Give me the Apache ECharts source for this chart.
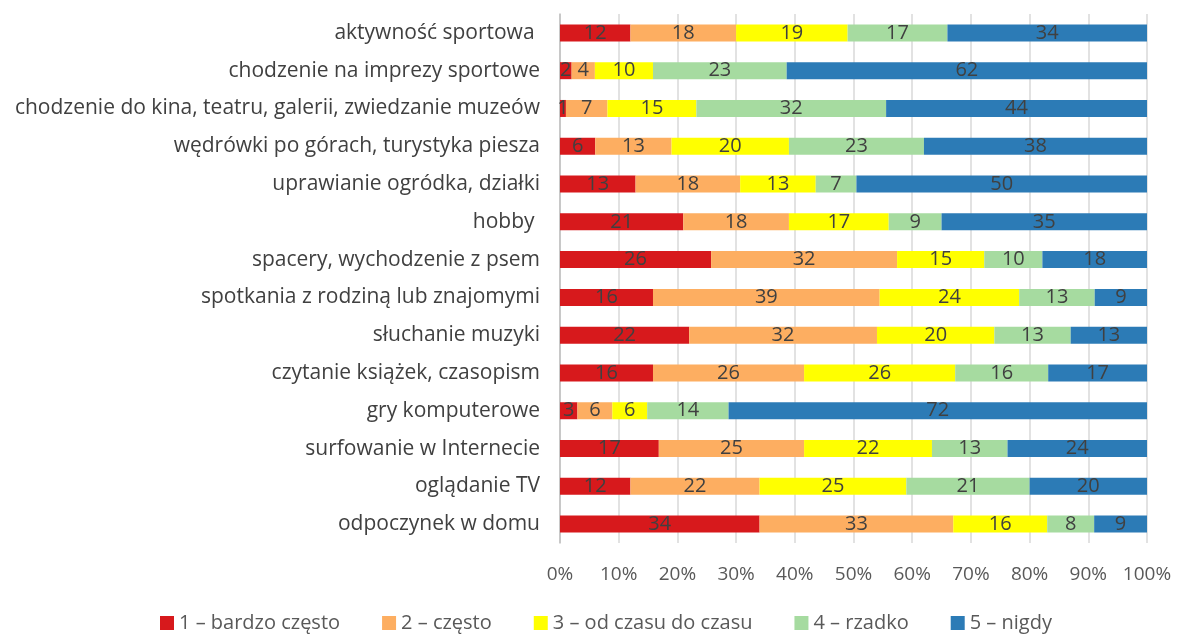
<!DOCTYPE html>
<html>
<head>
<meta charset="utf-8">
<script src="https://cdn.jsdelivr.net/npm/echarts@6/dist/echarts.min.js"></script>
<style>
html, body { margin: 0; padding: 0; background: #fff; }
#chart { width: 1177px; height: 640px; }
</style>
</head>
<body>
<div id="chart"></div>
<script>
const categories = [
    'aktywność sportowa ',
    'chodzenie na imprezy sportowe',
    'chodzenie do kina, teatru, galerii, zwiedzanie muzeów',
    'wędrówki po górach, turystyka piesza',
    'uprawianie ogródka, działki',
    'hobby ',
    'spacery, wychodzenie z psem',
    'spotkania z rodziną lub znajomymi',
    'słuchanie muzyki',
    'czytanie książek, czasopism',
    'gry komputerowe',
    'surfowanie w Internecie',
    'oglądanie TV',
    'odpoczynek w domu'
];
const seriesNames = ['1 – bardzo często', '2 – często', '3 – od czasu do czasu', '4 – rzadko', '5 – nigdy'];
const s1 = [12, 2, 1, 6, 13, 21, 26, 16, 22, 16, 3, 17, 12, 34];
const s2 = [18, 4, 7, 13, 18, 18, 32, 39, 32, 26, 6, 25, 22, 33];
const s3 = [19, 10, 15, 20, 13, 17, 15, 24, 20, 26, 6, 22, 25, 16];
const s4 = [17, 23, 32, 23, 7, 9, 10, 13, 13, 16, 14, 13, 21, 8];
const s5 = [34, 62, 44, 38, 50, 35, 18, 9, 13, 17, 72, 24, 20, 9];
const colors = ['#D7191C', '#FDAE61', '#FFFF00', '#A6DBA0', '#2C7BB6'];

const raw = [s1, s2, s3, s4, s5];
// row totals, so every bar fills 100%
const totals = categories.map((c, i) => raw.reduce((p, arr) => p + arr[i], 0));

const FONT = '"Open Sans", "Noto Sans", sans-serif';

const chart = echarts.init(document.getElementById('chart'));
chart.setOption({
    animation: false,
    color: colors,
    grid: { left: 560, right: 30, top: 14, bottom: 97 },
    legend: {
        bottom: 2,
        left: 155,
        itemWidth: 14,
        itemHeight: 14,
        itemGap: 42,
        icon: 'rect',
        textStyle: { fontFamily: FONT, fontSize: 20, color: '#595959' },
        data: seriesNames
    },
    xAxis: {
        type: 'value',
        min: 0,
        max: 100,
        interval: 10,
        axisLine: { show: false },
        axisTick: { show: false },
        axisLabel: {
            formatter: '{value}%',
            fontFamily: FONT, fontSize: 19, color: '#595959', margin: 22
        },
        splitLine: { lineStyle: { color: '#D9D9D9', width: 1.5 } }
    },
    yAxis: {
        type: 'category',
        inverse: true,
        data: categories,
        axisLine: { show: true, lineStyle: { color: '#BFBFBF', width: 1.5 } },
        axisTick: { show: false },
        axisLabel: { fontFamily: FONT, fontSize: 21, color: '#404040', margin: 20 }
    },
    series: raw.map((arr, k) => ({
        name: seriesNames[k],
        type: 'bar',
        stack: 'total',
        barWidth: 17,
        data: arr.map((v, i) => v / totals[i] * 100),
        label: {
            show: true,
            position: 'inside',
            fontFamily: FONT,
            fontSize: 20,
            color: '#404040',
            formatter: p => arr[p.dataIndex]
        }
    }))
});
</script>
</body>
</html>
